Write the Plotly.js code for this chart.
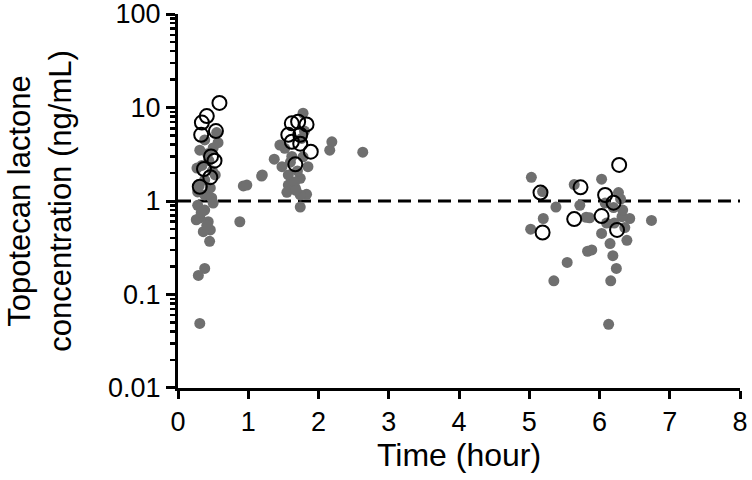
<!DOCTYPE html>
<html>
<head>
<meta charset="utf-8">
<script src="https://cdn.plot.ly/plotly-3.0.1.min.js"></script>
<style>html,body{margin:0;padding:0;background:#fff;}#chart{width:752px;height:480px;}</style>
</head>
<body>
<div id="chart"></div>
<script>
// Gray filled points (time in hours, concentration ng/mL)
const grayTime = [
  0.38,0.50,0.31,0.44,0.27,0.53,0.38,0.46,0.28,0.38,0.48,0.55,0.57,0.42,0.34,0.49,
  0.28,0.38,0.31,0.43,0.26,0.46,0.36,0.33,0.41,0.30,0.50,
  0.88,0.45,0.38,0.29,0.31,0.93,1.19,
  1.78,2.19,2.16,1.37,1.20,0.98,1.48,1.52,1.85,1.57,1.74,1.57,1.67,1.55,1.83,1.74,1.74,
  1.76,1.78,1.45,2.63,1.62,1.70,1.66,1.80,1.60,1.68,
  5.03,5.19,5.38,5.20,5.02,5.64,5.72,5.81,5.83,5.54,5.35,
  6.03,6.27,6.43,6.74,6.03,6.32,6.39,6.15,6.19,6.24,6.16,6.13,5.89,5.86,6.21,6.33,6.10,6.20,6.30,6.36,6.08
];
const grayConc = [
  4.5,3.7,3.5,2.7,2.25,1.9,1.68,1.38,1.25,1.16,1.08,5.4,4.2,3.2,2.4,2.1,
  0.90,0.80,0.66,0.60,0.63,0.49,0.47,0.75,0.55,1.45,0.95,
  0.60,0.37,0.19,0.16,0.049,1.45,1.85,
  8.7,4.3,3.5,2.8,1.9,1.48,2.33,3.66,2.33,1.9,1.75,1.48,1.37,1.24,1.18,1.16,0.86,
  4.67,2.97,3.97,3.33,3.0,2.1,1.6,5.6,2.6,1.3,
  1.79,1.26,0.86,0.65,0.50,1.50,0.90,0.67,0.29,0.22,0.14,
  1.71,1.23,0.65,0.62,0.45,0.68,0.38,0.35,0.26,0.19,0.14,0.048,0.30,0.66,0.58,0.80,0.58,0.85,1.05,0.52,0.95
];
// Open circle points
const openTime = [
  0.59,0.41,0.34,0.54,0.33,0.47,0.52,0.37,0.46,0.31,
  1.62,1.83,1.71,1.57,1.74,1.62,1.74,1.89,1.67,
  5.16,5.73,5.64,5.19,
  6.28,6.08,6.20,6.03,6.25
];
const openConc = [
  11.2,8.1,6.9,5.6,5.1,3.0,2.7,2.2,1.8,1.42,
  6.77,6.6,7.05,5.1,5.1,4.3,4.1,3.37,2.47,
  1.23,1.40,0.64,0.46,
  2.43,1.16,0.96,0.69,0.49
];
// Reference (LLOQ) line
const refTime = [0, 8];
const refConc = [1, 1];

const xTicks = [0,1,2,3,4,5,6,7,8];
const yTicks = [0.01,0.1,1,10,100];
const yTickText = ['0.01','0.1','1','10','100'];

const minorVals = [];
for (let e = -2; e < 2; e++) for (let m = 2; m <= 9; m++) minorVals.push(m * Math.pow(10, e));

const traces = [
  {x: refTime, y: refConc, type: 'scatter', mode: 'lines',
   line: {color: '#000', width: 3, dash: '13px,7px'}, hoverinfo: 'skip', showlegend: false},
  {x: grayTime, y: grayConc, type: 'scatter', mode: 'markers',
   marker: {color: '#6f6f6f', size: 11, line: {width: 0}}, showlegend: false},
  {x: openTime, y: openConc, type: 'scatter', mode: 'markers',
   marker: {color: 'rgba(255,255,255,0)', size: 14, symbol: 'circle', line: {color: '#000', width: 2}}, showlegend: false}
];

const tickFont = {family: '"Liberation Sans", Arial, sans-serif', size: 27, color: '#000'};
const xTitleFont = {family: '"Liberation Sans", Arial, sans-serif', size: 32, color: '#000'};
const yTitleFont = {family: '"Liberation Sans", Arial, sans-serif', size: 31, color: '#000'};

const layout = {
  width: 752, height: 480,
  margin: {l: 178, r: 12, t: 14, b: 92},
  paper_bgcolor: '#fff', plot_bgcolor: '#fff',
  font: {family: '"Liberation Sans", Arial, sans-serif', size: 28, color: '#000'},
  showlegend: false,
  xaxis: {
    range: [0, 8], tickvals: xTicks, ticktext: xTicks.map(String),
    showgrid: false, zeroline: false, showline: true, linecolor: '#000', linewidth: 3,
    ticks: 'outside', ticklen: 8, tickwidth: 3, tickcolor: '#000',
    tickfont: tickFont, ticklabeloverflow: 'allow',
    title: {text: 'Time (hour)', font: xTitleFont, standoff: 8}
  },
  yaxis: {
    type: 'log', range: [-2.0003, 2.0003], tickvals: yTicks, ticktext: yTickText,
    showgrid: false, zeroline: false, showline: true, linecolor: '#000', linewidth: 3,
    ticks: 'outside', ticklen: 9, tickwidth: 3, tickcolor: '#000',
    tickfont: tickFont, ticklabeloverflow: 'allow',
    minor: {tickvals: minorVals, ticks: 'outside', ticklen: 5, tickwidth: 2.5, tickcolor: '#000', showgrid: false},
    title: {text: 'Topotecan lactone<br>concentration (ng/mL)', font: yTitleFont, standoff: 28}
  }
};

Plotly.newPlot('chart', traces, layout, {displayModeBar: false, staticPlot: true});
</script>
</body>
</html>
